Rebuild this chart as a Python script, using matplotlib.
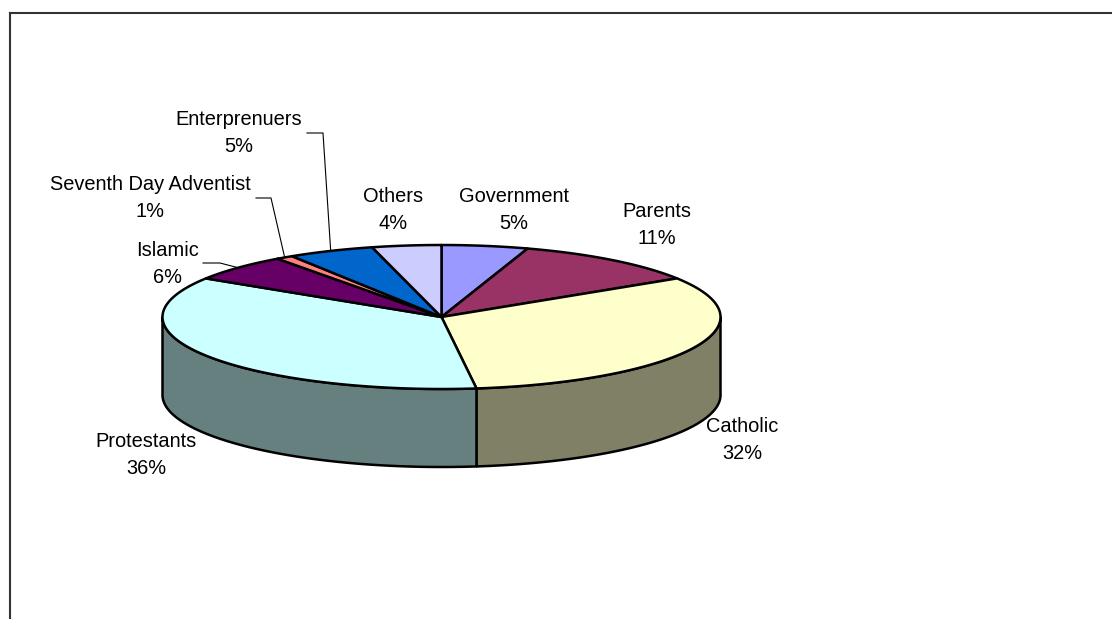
import numpy as np
import matplotlib
matplotlib.use("Agg")
import matplotlib.pyplot as plt
from matplotlib.patches import Polygon
from matplotlib.lines import Line2D

plt.rcParams['font.family'] = ['Liberation Sans', 'DejaVu Sans']

# funding sources, clockwise from 12 o'clock
labels = ['Government', 'Parents', 'Catholic', 'Protestants', 'Islamic',
          'Seventh Day Adventist', 'Enterprenuers', 'Others']
shares = [5, 11, 32, 36, 6, 1, 5, 4]
colors = ['#9999FF', '#993366', '#FFFFCC', '#CCFFFF', '#660066',
          '#FF8080', '#0066CC', '#CCCCFF']

# where each label block sits (pixel coords) and whether it gets a leader line
label_pos = [(514, 210), (657, 225), (742, 440), (146, 455), (168, 264),
             (150, 198), (239, 133), (393, 210)]
leader_start = {4: (203, 263), 5: (256, 198), 6: (307, 133)}
leader_elbow = {4: (220, 263), 5: (271, 198), 6: (323, 133)}

# pie geometry in pixels
cx, cy = 441.5, 317.0
rx, ry = 279.0, 72.0
depth = 78.0


def shade(c, f=0.5):
    r, g, b = matplotlib.colors.to_rgb(c)
    return (r * f, g * f, b * f)


def rim(a0, a1, dy=0.0, n=200):
    t = np.radians(np.linspace(a0, a1, n))
    return np.column_stack([cx + rx * np.sin(t), cy - ry * np.cos(t) + dy])


fig = plt.figure(figsize=(11.12, 6.19), dpi=100)
ax = fig.add_axes([0, 0, 1, 1])
ax.set_xlim(0, 1112)
ax.set_ylim(619, 0)
ax.axis('off')

total = float(sum(shares))
bounds = np.concatenate([[0], np.cumsum(shares)]) / total * 360.0
lw = 1.8

# outer wall, only the front half (90..270 deg) shows
for i in range(len(shares)):
    lo, hi = max(bounds[i], 90), min(bounds[i + 1], 270)
    if hi <= lo:
        continue
    top = rim(lo, hi)
    bot = rim(hi, lo, dy=depth)
    ax.add_patch(Polygon(np.vstack([top, bot]), closed=True,
                         facecolor=shade(colors[i]), edgecolor='black',
                         linewidth=lw, joinstyle='round'))

# top faces
for i in range(len(shares)):
    pts = np.vstack([[cx, cy], rim(bounds[i], bounds[i + 1])])
    ax.add_patch(Polygon(pts, closed=True, facecolor=colors[i],
                         edgecolor='black', linewidth=lw, joinstyle='round'))

# labels
for i, (name, v) in enumerate(zip(labels, shares)):
    x, y = label_pos[i]
    ax.text(x, y, f'{name}\n{v}%', ha='center', va='center',
            fontsize=14.4, linespacing=1.55, color='black')
    if i in leader_start:
        mid = (bounds[i] + bounds[i + 1]) / 2
        end = rim(mid, mid, n=1)[0]
        xs = [leader_start[i][0], leader_elbow[i][0], end[0]]
        ys = [leader_start[i][1], leader_elbow[i][1], end[1]]
        ax.plot(xs, ys, color='black', linewidth=0.8)

# chart area frame (top and left edges)
fig.add_artist(Line2D([10 / 1112, 1], [1 - 12.5 / 619, 1 - 12.5 / 619],
                      color='#333333', linewidth=1.5))
fig.add_artist(Line2D([10 / 1112, 10 / 1112], [0, 1 - 12.5 / 619],
                      color='#333333', linewidth=1.5))

fig.savefig('out.png', dpi=100)
